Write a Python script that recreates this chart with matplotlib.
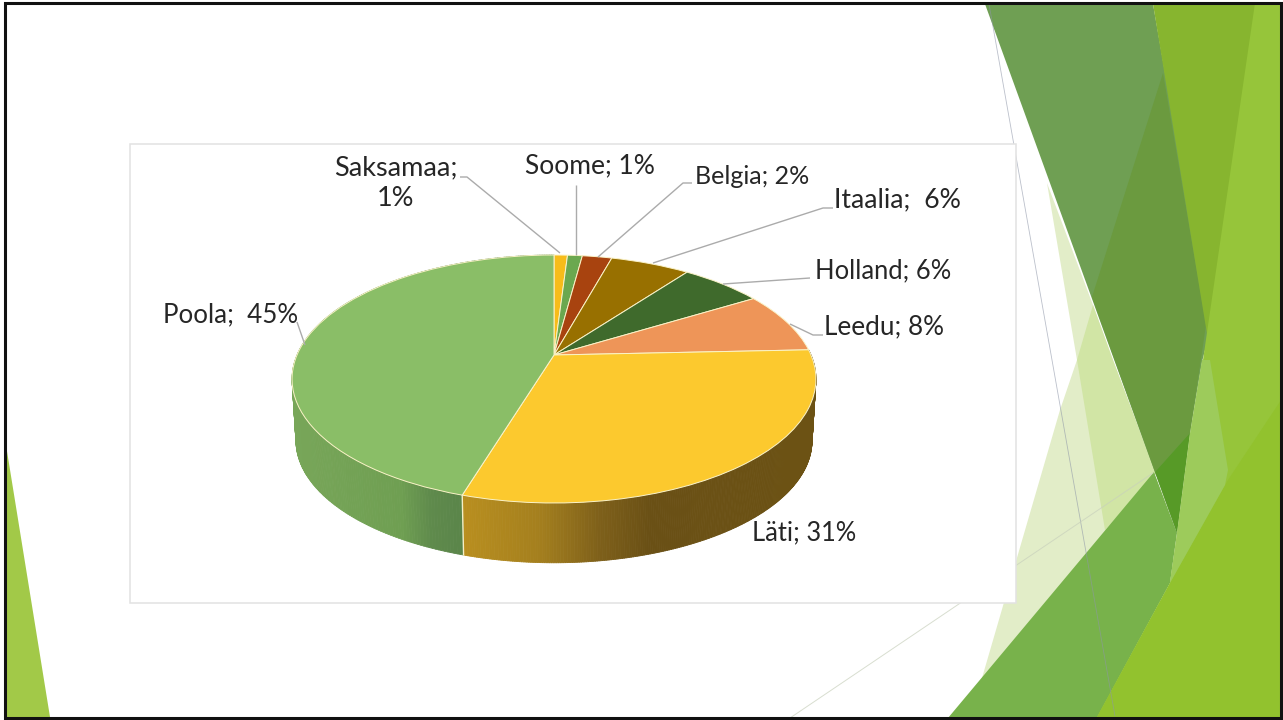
import numpy as np
import matplotlib
matplotlib.use("Agg")
import matplotlib.pyplot as plt
from matplotlib.collections import PolyCollection
from matplotlib.patches import Polygon, Rectangle
from matplotlib.transforms import Transform

# ---- data ----
categories = ["Saksamaa", "Soome", "Belgia", "Itaalia", "Holland", "Leedu", "Läti", "Poola"]
shares = [1.0, 1.1, 2.2, 5.9, 6.1, 8.0, 30.4, 45.3]
label_texts = ["Saksamaa;\n1%", "Soome; 1%", "Belgia; 2%", "Itaalia;  6%",
               "Holland; 6%", "Leedu; 8%", "Läti; 31%", "Poola;  45%"]
slice_colors = ["#F7BC1A", "#6BA84F", "#A8430F", "#987000", "#3F6A2C", "#EE9558", "#FCC92E", "#8ABE67"]

plt.rcParams["font.family"] = ["Lato", "DejaVu Sans"]
W, H = 1283, 720
fig = plt.figure(figsize=(W / 100, H / 100), dpi=100, facecolor="white")
ax = fig.add_axes([0, 0, 1, 1])

# perspective layout of the pie disc in page pixels
CX, CY, A, B, K = 554.0, 355.0, 257.0, 119.35, 0.1935
DEPTH, RIM_SCALE = 62.0, 0.985


def project(u, v, scale=1.0, dy=0.0):
    d = 1 + K * v
    return CX + scale * A * u / d, CY + dy - scale * B * v / d


class DiscTransform(Transform):
    input_dims = output_dims = 2

    def transform_non_affine(self, values):
        values = np.asarray(values)
        x, y = project(values[:, 0], values[:, 1])
        return np.column_stack([x, y])


# ---- slide background ----
background = [
    ([(1047, 183), (1093, 305), (1113, 360), (1156, 474), (1000, 684), (982, 678), (1060, 410), (1077, 360)], "#E2EDC8"),
    ([(1093, 305), (1113, 360), (1156, 474), (1105, 530), (1077, 360)], "#D1E5A5"),
    ([(948, 718), (1154, 472), (1177, 533), (1170, 583), (1097, 718)], "#78B24B"),
    ([(985, 4), (1153, 4), (1210, 330), (1202, 362), (1190, 433), (1177, 533)], "#6F9F53"),
    ([(1163, 73), (1206, 325), (1190, 433), (1155, 472), (1092, 297)], "#6B9A3F"),
    ([(1155, 472), (1190, 433), (1177, 533)], "#579A27"),
    ([(1153, 4), (1256, 4), (1208, 340)], "#87B52F"),
    ([(1255, 3), (1281, 3), (1281, 717), (1097, 717), (1170, 583), (1203, 360)], "#96C53A"),
    ([(1281, 400), (1281, 717), (1097, 717), (1170, 583), (1228, 480)], "#92C22E"),
    ([(1202, 360), (1210, 360), (1228, 470), (1225, 485), (1170, 583), (1177, 533), (1190, 433)], "#9DCB5B"),
    ([(6, 445), (6, 717), (50, 717)], "#A2C948"),
]
for pts, col in background:
    ax.add_patch(Polygon(pts, closed=True, fc=col, ec="none", zorder=1))
ax.plot([989, 1115], [4, 716], color="#8E96A8", lw=0.6, alpha=0.6, zorder=1.5)
ax.plot([790, 1153], [718, 473], color="#C8D0BC", lw=0.7, alpha=0.7, zorder=1.5)
ax.add_patch(Rectangle((130, 144), 886, 459, fc="white", ec="#E2E2E2", lw=1.1, zorder=2))

# ---- side wall of the pie ----
ends = np.cumsum(shares) / np.sum(shares) * 2 * np.pi
starts = np.concatenate([[0], ends[:-1]])
grad_x = {
    "Läti": ([462, 540, 600, 650, 816], ["#B98F1F", "#A47F1E", "#7E601A", "#6A5015", "#6C5214"]),
    "Poola": ([291, 400, 430, 462], ["#78A659", "#6F9F52", "#5F8A4C", "#5A854A"]),
}
for name, (xs, cols) in grad_x.items():
    i = categories.index(name)
    th = np.linspace(starts[i], ends[i], 260)
    u, v = np.sin(th), np.cos(th)
    xt, yt = project(u, v)
    xb, yb = project(u, v, RIM_SCALE, DEPTH)
    quads = [[(xt[j], yt[j]), (xt[j + 1], yt[j + 1]), (xb[j + 1], yb[j + 1]), (xb[j], yb[j])]
             for j in range(len(th) - 1)]
    rgb = np.array([matplotlib.colors.to_rgb(c) for c in cols])
    mid = (xt[:-1] + xt[1:]) / 2
    face = np.column_stack([np.interp(mid, xs, rgb[:, c]) for c in range(3)])
    ax.add_collection(PolyCollection(quads, facecolors=face, edgecolors=face, linewidths=0.6, zorder=3))

# seam between Läti and Poola on the wall
seam = starts[categories.index("Poola")]
xa, ya = project(np.sin(seam), np.cos(seam))
xc, yc = project(np.sin(seam), np.cos(seam), RIM_SCALE, DEPTH)
ax.plot([xa, xc], [ya, yc], color="#F4EFC8", lw=1.0, zorder=3.5)

# ---- pie top ----
wedges, _ = ax.pie(shares, colors=slice_colors, startangle=90, counterclock=False,
                   radius=1, labeldistance=None,
                   wedgeprops=dict(edgecolor="#FBF3C8", linewidth=0.7))
disc = DiscTransform() + ax.transData
for w in wedges:
    w.set_transform(disc)
    w.set_zorder(4)

ax.set_aspect("auto")
ax.set_xlim(0, W)
ax.set_ylim(H, 0)
ax.axis("off")

# ---- leader lines ----
leaders = [
    [(460, 177), (467, 177), (560, 253)],
    [(576, 185), (576, 255)],
    [(692, 183), (683, 183), (598, 257)],
    [(833, 208), (823, 208), (653, 263)],
    [(810, 278), (723, 284)],
    [(823, 335), (813, 335), (790, 324)],
    [(297, 322), (305, 345)],
]
for pts in leaders:
    p = np.array(pts)
    ax.plot(p[:, 0], p[:, 1], color="#ABABAB", lw=1.0, zorder=5, solid_capstyle="butt")

# ---- labels ----
label_anchor = {
    "Saksamaa": (396, 183, "center", 19.5),
    "Soome": (590, 166, "center", 19.0),
    "Belgia": (695, 176, "left", 18.0),
    "Itaalia": (834, 200, "left", 19.2),
    "Holland": (815, 271, "left", 18.4),
    "Leedu": (824, 327, "left", 18.8),
    "Läti": (752, 533, "left", 18.4),
    "Poola": (163, 315, "left", 18.7),
}
for name, text in zip(categories, label_texts):
    x, y, ha, size = label_anchor[name]
    ax.text(x, y, text, ha=ha, va="center", multialignment="center", fontsize=size,
            color="#262626", linespacing=1.3, zorder=6)

# ---- slide frame ----
ax.add_patch(Rectangle((4.5, 3), 1276.5, 714.5, fc="none", ec="#111111", lw=2.2, zorder=8))

fig.savefig("out.png", dpi=100)
